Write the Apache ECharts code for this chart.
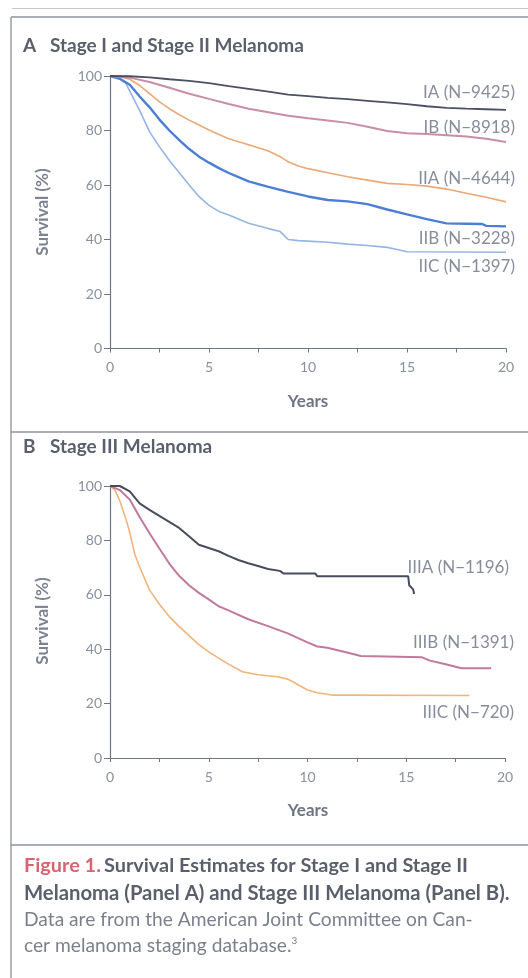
<!DOCTYPE html>
<html>
<head>
<meta charset="utf-8">
<script src="https://cdn.jsdelivr.net/npm/echarts@6/dist/echarts.min.js"></script>
<style>
html,body{margin:0;padding:0;background:#ffffff;}
#chart{width:528px;height:978px;}
</style>
</head>
<body>
<div id="chart"></div>
<script>
// ---- Data (years, survival %) ----
const stageIA = [[0,100],[1,99.9],[2,99.5],[3,98.8],[4,98.2],[5,97.4],[6,96.3],[7,95.3],[8,94.3],[9,93.2],[10,92.6],[11,92],[12,91.5],[13,90.9],[14,90.3],[15,89.7],[16,88.9],[17,88.3],[18,88],[19,87.8],[20,87.6]];
const stageIB = [[0,100],[1,99.4],[2,97.8],[3,95.7],[4,93.5],[5,91.6],[6,89.7],[7,88],[8,86.7],[9,85.4],[10,84.5],[11,83.7],[12,82.8],[13,81.4],[14,79.8],[15,79],[16,78.7],[17,78.3],[18,77.8],[19,77],[20,75.8]];
const stageIIA = [[0,100],[0.5,99.8],[1,98.8],[1.5,96.5],[2,93.5],[2.5,90.5],[3,88],[3.5,85.8],[4,83.8],[4.5,82],[5,80.2],[5.5,78.5],[6,77],[7,74.8],[8,72.5],[8.6,70.4],[9,68.5],[9.5,67],[10,66],[11,64.5],[12,63],[13,61.8],[14,60.6],[15,60.2],[16,59.6],[17,58.5],[18,57],[19,55.5],[20,53.8]];
const stageIIB = [[0,100],[0.5,99],[1,96.8],[1.5,92.5],[2,88.5],[2.5,84],[3,80],[3.5,76.5],[4,73.2],[4.5,70.4],[5,68.2],[5.5,66.2],[6,64.4],[7,61.3],[8,59.3],[9,57.5],[10,55.8],[11,54.5],[12,54],[13,53],[14,51],[15,49.2],[16,47.5],[17,45.9],[18,45.8],[18.8,45.7],[19,45],[20,44.8]];
const stageIIC = [[0,100],[0.4,99.5],[0.8,97.3],[1.5,87.3],[2,79.5],[2.5,74],[3,69],[3.5,64.5],[4,60],[4.5,55.7],[5,52.5],[5.5,50.3],[6,49],[7,46],[8,44],[8.6,42.9],[9,40],[9.5,39.6],[10,39.4],[11,39],[12,38.3],[13,37.8],[14,37.1],[14.5,36.3],[15,35.5],[20,35.3]];

const stageIIIA = [[0,100],[0.5,100],[1,98],[1.5,93.6],[2,91.2],[2.5,89],[3,86.8],[3.5,84.6],[4,81.5],[4.5,78.4],[5,77.2],[5.5,76],[6,74.3],[6.5,72.8],[7,71.6],[7.5,70.6],[8,69.5],[8.6,68.8],[8.8,67.8],[10.4,67.8],[10.5,66.8],[15.1,66.8],[15.15,63.5],[15.35,62],[15.4,60.3]];
const stageIIIB = [[0,100],[0.5,98.5],[1,95],[1.5,88.6],[2,82.6],[2.5,77],[3,71.5],[3.5,67],[4,63.5],[4.5,60.7],[5,58.3],[5.5,55.8],[6,54.3],[7,51],[8,48.5],[9,45.8],[10,42.5],[10.5,41],[11,40.5],[12,38.8],[12.7,37.5],[15.8,37],[16.2,35.8],[17,34.5],[17.8,33],[19.3,33]];
const stageIIIC = [[0,100],[0.25,98.5],[0.5,94.5],[0.8,88],[1,83],[1.25,75],[1.5,70.2],[2,61.8],[2.5,56.5],[3,52],[3.5,48.4],[4,45],[4.5,41.7],[5,39],[5.5,36.7],[6,34.5],[6.7,31.7],[7.5,30.6],[8.5,29.9],[9,29],[9.5,27],[10,25],[10.5,24],[11.3,23.1],[18.2,23]];

const labelsA = ['IA (N\u22129425)','IB (N\u22128918)','IIA (N\u22124644)','IIB (N\u22123228)','IIC (N\u22121397)'];
const labelsB = ['IIIA (N\u22121196)','IIIB (N\u22121391)','IIIC (N\u2212720)'];
const yTicks = [0,20,40,60,80,100];
const xTicks = [0,5,10,15,20];

// ---- Styling ----
const FONT = 'Lato';
const axisCol = '#6f7686';
const tickLblCol = '#8a909e';
const colorsA = ['#4b5162','#c98ea6','#eaa877','#4a7fd4','#95b5e5'];
const widthsA = [1.8,2,1.6,2.4,1.6];
const colorsB = ['#474d5c','#bf7a9c','#f0b57a'];
const widthsB = [2,2,1.6];

const chart = echarts.init(document.getElementById('chart'));

function xAxisFor(gi){
  return {
    gridIndex: gi, type:'value', min:0, max:20, interval:5,
    axisLine:{show:true, lineStyle:{color:axisCol, width:1.2}},
    axisTick:{show:true, length:4, inside:false, lineStyle:{color:axisCol}},
    minorTick:{show:true, splitNumber:2, length:4, lineStyle:{color:axisCol}},
    splitLine:{show:false},
    axisLabel:{color:tickLblCol, fontFamily:FONT, fontSize:14, margin:12,
      formatter: v => xTicks.indexOf(v) >= 0 ? String(v) : ''}
  };
}
function yAxisFor(gi){
  return {
    gridIndex: gi, type:'value', min:0, max:100, interval:20,
    axisLine:{show:true, lineStyle:{color:axisCol, width:1.2}},
    axisTick:{show:true, length:6, inside:false, lineStyle:{color:axisCol}},
    splitLine:{show:false},
    axisLabel:{color:tickLblCol, fontFamily:FONT, fontSize:14, margin:8,
      formatter: v => yTicks.indexOf(v) >= 0 ? String(v) : ''}
  };
}

const seriesA = [stageIA, stageIB, stageIIA, stageIIB, stageIIC].map((d,i)=>({
  type:'line', xAxisIndex:0, yAxisIndex:0, data:d, showSymbol:false, symbol:'none',
  lineStyle:{color:colorsA[i], width:widthsA[i]}, z: 10 - i, animation:false
}));
const seriesB = [stageIIIA, stageIIIB, stageIIIC].map((d,i)=>({
  type:'line', xAxisIndex:1, yAxisIndex:1, data:d, showSymbol:false, symbol:'none',
  lineStyle:{color:colorsB[i], width:widthsB[i]}, z: 10 - i, animation:false
}));

const labelYA = [93, 128, 179, 239, 267];
const labelYB = [568, 643, 713];

function txt(x,y,text,opt){
  return {type:'text', x:x, y:y, silent:true, style:Object.assign({text:text, fontFamily:FONT, fill:'#5a5f6b', verticalAlign:'middle'}, opt||{})};
}
function hline(y, x1, x2, col, w){
  return {type:'line', silent:true, shape:{x1:x1,y1:y,x2:x2,y2:y}, style:{stroke:col, lineWidth:w}};
}

const graphics = [];
// frame
graphics.push(hline(8.5, 12, 528, '#c4c6cc', 1));
graphics.push(hline(17, 11, 528, '#8e929c', 1.5));
graphics.push({type:'line', silent:true, shape:{x1:11,y1:17,x2:11,y2:978}, style:{stroke:'#9a9ea8', lineWidth:1.5}});
graphics.push(hline(432, 11, 528, '#8e929c', 1.5));
graphics.push(hline(845, 11, 528, '#8e929c', 1.5));

// panel titles
graphics.push(txt(23, 46, 'A', {fontSize:19, fontWeight:'bold'}));
graphics.push(txt(50, 46, 'Stage I and Stage II Melanoma', {fontSize:19, fontWeight:'bold'}));
graphics.push(txt(23, 447, 'B', {fontSize:19, fontWeight:'bold'}));
graphics.push(txt(50, 447, 'Stage III Melanoma', {fontSize:19, fontWeight:'bold'}));

// axis names
[212, 621].forEach(cy => {
  graphics.push({type:'text', silent:true, x:43, y:cy, rotation:Math.PI/2,
    style:{text:'Survival (%)', fontFamily:FONT, fontSize:17, fontWeight:'bold', fill:'#7c8292', align:'center', verticalAlign:'middle'}});
});
[402, 811].forEach(cy => {
  graphics.push(txt(308, cy, 'Years', {fontSize:17, fontWeight:'bold', fill:'#6f7584', align:'center'}));
});

// series labels
labelsA.forEach((l,i)=> graphics.push(txt(515, labelYA[i], l, {fontSize:17, fill:'#878d9b', align:'right'})));
labelsB.forEach((l,i)=> graphics.push(txt([509,514,514][i], labelYB[i], l, {fontSize:17, fill:'#878d9b', align:'right'})));

// caption
graphics.push({type:'text', silent:true, x:24, y:866, style:{
  text:'{r|Figure 1.} {b|Survival Estimates for Stage I and Stage II}',
  fontFamily:FONT, verticalAlign:'middle',
  rich:{ r:{fill:'#d9636f', fontSize:19.9, fontWeight:'bold', fontFamily:FONT},
         b:{fill:'#5a5f6b', fontSize:19.9, fontWeight:'bold', fontFamily:FONT} }
}});
graphics.push(txt(24, 893, 'Melanoma (Panel A) and Stage III Melanoma (Panel B).', {fontSize:20.3, fontWeight:'bold'}));
graphics.push(txt(24, 920, 'Data are from the American Joint Committee on Can-', {fontSize:19.2, fill:'#7b808c'}));
graphics.push({type:'text', silent:true, x:24, y:946, style:{
  text:'cer melanoma staging database.{s|3}', fontFamily:FONT, fontSize:19.2, fill:'#7b808c', verticalAlign:'middle',
  rich:{ s:{fontSize:10, fill:'#7b808c', fontFamily:FONT, verticalAlign:'top', padding:[0,0,10,0]} }
}});

chart.setOption({
  animation:false,
  backgroundColor:'#ffffff',
  grid:[
    {left:110, top:76, width:396, height:272.5},
    {left:110, top:486, width:395, height:272}
  ],
  xAxis:[xAxisFor(0), xAxisFor(1)],
  yAxis:[yAxisFor(0), yAxisFor(1)],
  series: seriesA.concat(seriesB),
  graphic: graphics
});
</script>
</body>
</html>
